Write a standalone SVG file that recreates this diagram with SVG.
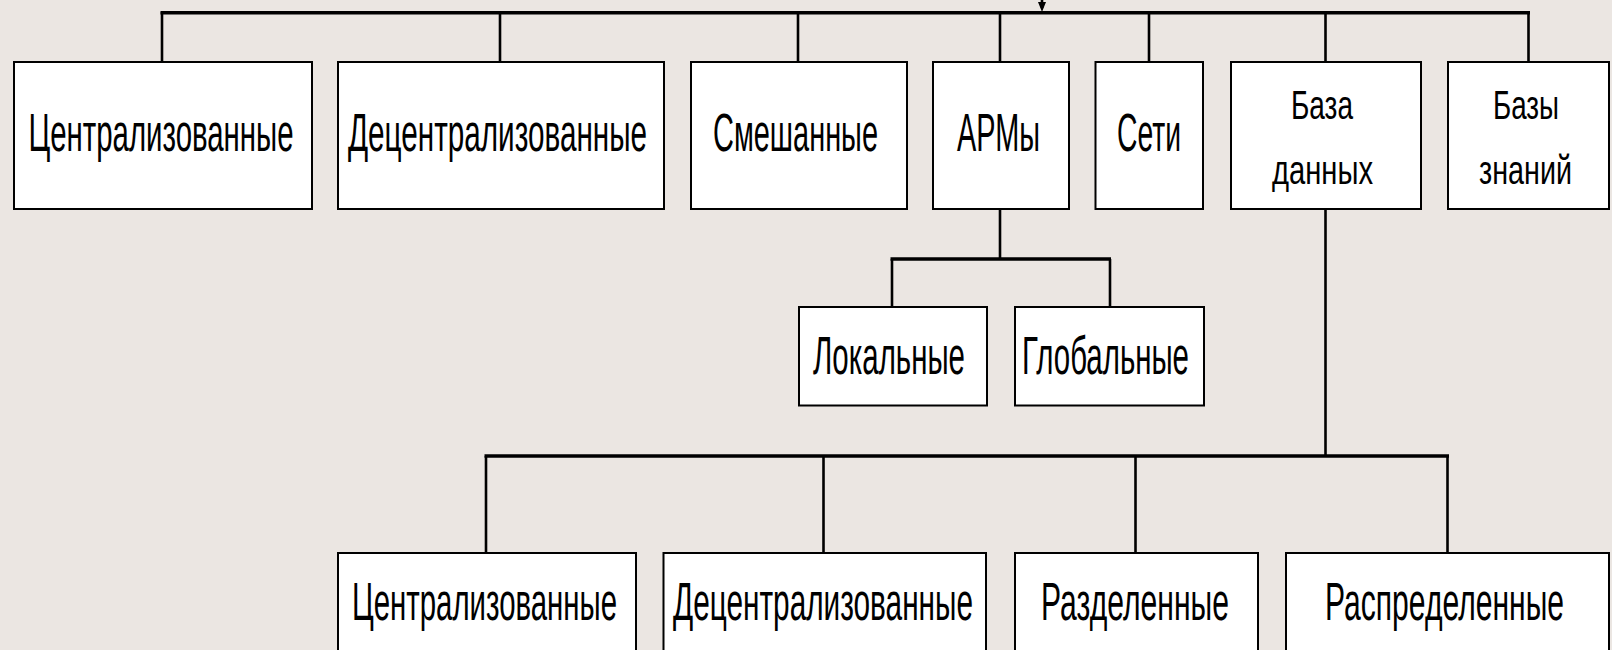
<svg xmlns="http://www.w3.org/2000/svg" width="1612" height="650" viewBox="0 0 1612 650">
<style>
.bg{fill:#EBE6E2}
.box{fill:#FFFFFF;stroke:#000000;stroke-width:2}
.t{font-family:"Liberation Sans",Arial,sans-serif;font-size:30px;fill:#000000}
.t2{font-family:"Liberation Sans",Arial,sans-serif;font-size:28px;fill:#000000}
.ln{stroke:#000000;stroke-width:2.6;fill:none}
.bar{stroke:#000000;stroke-width:3.6;fill:none}
</style>
<rect class="bg" x="0" y="0" width="1612" height="650"/>
<g id="connectors">
  <line class="ln" x1="1042" y1="0" x2="1042" y2="8"/>
  <path d="M1038,2 L1046,2 L1042,12 Z" fill="#000000"/>
  <line class="bar" x1="160.5" y1="12.7" x2="1530" y2="12.7"/>
  <line class="ln" x1="162" y1="12" x2="162" y2="62"/>
  <line class="ln" x1="500" y1="12" x2="500" y2="62"/>
  <line class="ln" x1="798" y1="12" x2="798" y2="62"/>
  <line class="ln" x1="1000" y1="12" x2="1000" y2="62"/>
  <line class="ln" x1="1149" y1="12" x2="1149" y2="62"/>
  <line class="ln" x1="1325.5" y1="12" x2="1325.5" y2="62"/>
  <line class="ln" x1="1528.5" y1="12" x2="1528.5" y2="62"/>
  <line class="ln" x1="1000" y1="209" x2="1000" y2="259"/>
  <line class="bar" x1="890.5" y1="259" x2="1111" y2="259"/>
  <line class="ln" x1="892" y1="259" x2="892" y2="307"/>
  <line class="ln" x1="1110" y1="259" x2="1110" y2="307"/>
  <line class="ln" x1="1325.5" y1="209" x2="1325.5" y2="456"/>
  <line class="bar" x1="484.5" y1="456" x2="1449" y2="456"/>
  <line class="ln" x1="486" y1="456" x2="486" y2="553"/>
  <line class="ln" x1="823.5" y1="456" x2="823.5" y2="553"/>
  <line class="ln" x1="1135.5" y1="456" x2="1135.5" y2="553"/>
  <line class="ln" x1="1447.5" y1="456" x2="1447.5" y2="553"/>
</g>
<g id="n1"><rect class="box" x="14" y="62" width="298" height="147"/><text class="t" transform="translate(28.5,151) scale(1,1.767)" textLength="265" lengthAdjust="spacingAndGlyphs">Централизованные</text></g>
<g id="n2"><rect class="box" x="338" y="62" width="326" height="147"/><text class="t" transform="translate(348,151) scale(1,1.767)" textLength="299" lengthAdjust="spacingAndGlyphs">Децентрализованные</text></g>
<g id="n3"><rect class="box" x="691" y="62" width="216" height="147"/><text class="t" transform="translate(713,151) scale(1,1.767)" textLength="165" lengthAdjust="spacingAndGlyphs">Смешанные</text></g>
<g id="n4"><rect class="box" x="933" y="62" width="136" height="147"/><text class="t" transform="translate(957,151) scale(1,1.767)" textLength="83" lengthAdjust="spacingAndGlyphs">АРМы</text></g>
<g id="n5"><rect class="box" x="1095.5" y="62" width="107.5" height="147"/><text class="t" transform="translate(1117,151) scale(1,1.767)" textLength="64" lengthAdjust="spacingAndGlyphs">Сети</text></g>
<g id="n6"><rect class="box" x="1231" y="62" width="190" height="147"/><text class="t2" transform="translate(1291,118.5) scale(1,1.43)" textLength="62" lengthAdjust="spacingAndGlyphs">База</text><text class="t2" transform="translate(1272,183.5) scale(1,1.43)" textLength="101" lengthAdjust="spacingAndGlyphs">данных</text></g>
<g id="n7"><rect class="box" x="1448" y="62" width="161" height="147"/><text class="t2" transform="translate(1493,118.5) scale(1,1.43)" textLength="66" lengthAdjust="spacingAndGlyphs">Базы</text><text class="t2" transform="translate(1479,183.5) scale(1,1.43)" textLength="93" lengthAdjust="spacingAndGlyphs">знаний</text></g>
<g id="n8"><rect class="box" x="799" y="307" width="188" height="98.5"/><text class="t" transform="translate(813,373.5) scale(1,1.767)" textLength="152" lengthAdjust="spacingAndGlyphs">Локальные</text></g>
<g id="n9"><rect class="box" x="1015" y="307" width="189" height="98.5"/><text class="t" transform="translate(1022,373.5) scale(1,1.767)" textLength="167" lengthAdjust="spacingAndGlyphs">Глобальные</text></g>
<g id="n10"><rect class="box" x="338" y="553" width="298" height="130"/><text class="t" transform="translate(352,620) scale(1,1.767)" textLength="265" lengthAdjust="spacingAndGlyphs">Централизованные</text></g>
<g id="n11"><rect class="box" x="663.5" y="553" width="322.5" height="130"/><text class="t" transform="translate(673,620) scale(1,1.767)" textLength="300" lengthAdjust="spacingAndGlyphs">Децентрализованные</text></g>
<g id="n12"><rect class="box" x="1015" y="553" width="243" height="130"/><text class="t" transform="translate(1041,620) scale(1,1.767)" textLength="188" lengthAdjust="spacingAndGlyphs">Разделенные</text></g>
<g id="n13"><rect class="box" x="1286" y="553" width="323" height="130"/><text class="t" transform="translate(1325,620) scale(1,1.767)" textLength="239" lengthAdjust="spacingAndGlyphs">Распределенные</text></g>
</svg>
